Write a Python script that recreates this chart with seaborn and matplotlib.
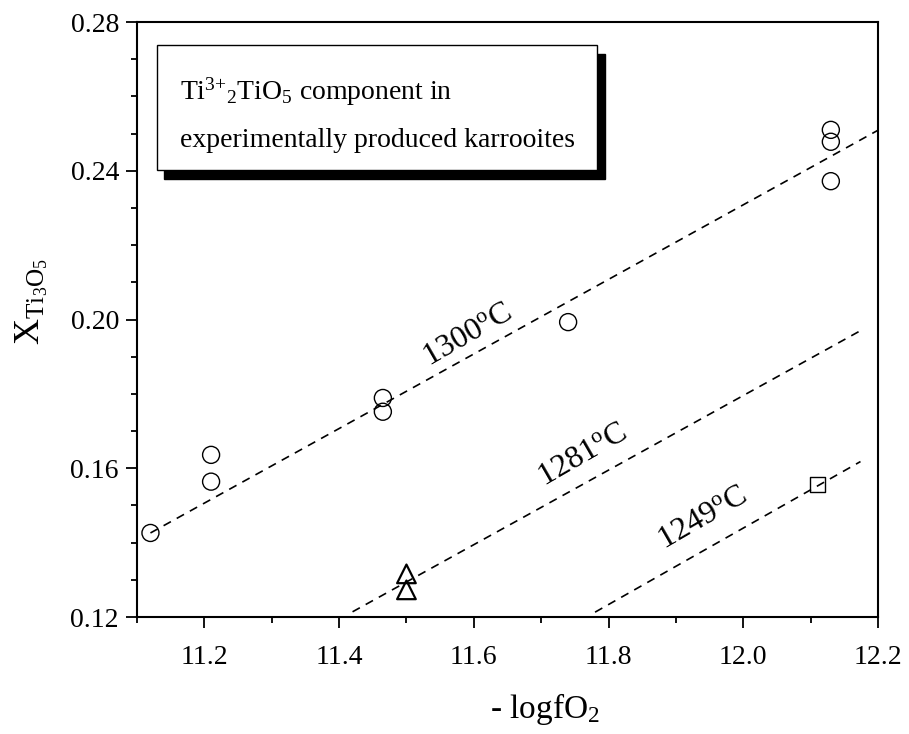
import numpy as np
import pandas as pd
import seaborn as sns
import matplotlib.pyplot as plt
from matplotlib.patches import Rectangle
from matplotlib.ticker import MultipleLocator, FormatStrFormatter

# data
x_1300 = [11.12, 11.21, 11.21, 11.465, 11.465, 11.74, 12.13, 12.13, 12.13]
y_1300 = [0.1426, 0.1636, 0.1564, 0.1789, 0.1752, 0.1993, 0.2510, 0.2478, 0.2372]
x_1281 = [11.50, 11.50]
y_1281 = [0.1316, 0.1273]
x_1249 = [12.11]
y_1249 = [0.1556]

# dashed trend lines (start, end)
line_1300_x = [11.12, 12.20]
line_1300_y = [0.1426, 0.2509]
line_1281_x = [11.42, 12.176]
line_1281_y = [0.1214, 0.1972]
line_1249_x = [11.78, 12.174]
line_1249_y = [0.1213, 0.1618]

labels = ['1300', '1281', '1249']
label_x = [11.59, 11.762, 11.94]
label_y = [0.1958, 0.1636, 0.1466]

sns.set_theme(style='ticks')
plt.rcParams['font.family'] = ['Liberation Serif', 'DejaVu Serif']
plt.rcParams['mathtext.fontset'] = 'custom'
plt.rcParams['mathtext.rm'] = 'Liberation Serif'
plt.rcParams['mathtext.it'] = 'Liberation Serif:italic'
plt.rcParams['mathtext.bf'] = 'Liberation Serif:bold'
plt.rcParams['text.color'] = 'black'
plt.rcParams['axes.labelcolor'] = 'black'

fig = plt.figure(figsize=(9.09, 7.34), dpi=100)
ax = fig.add_axes([0.1507, 0.1594, 0.8152, 0.8106])

df_c = pd.DataFrame({'x': x_1300, 'y': y_1300})
df_t = pd.DataFrame({'x': x_1281, 'y': y_1281})
df_s = pd.DataFrame({'x': x_1249, 'y': y_1249})

sns.scatterplot(data=df_c, x='x', y='y', marker='o', s=150, facecolor='none',
                edgecolor='black', linewidth=1.0, ax=ax, zorder=3)
sns.scatterplot(data=df_t, x='x', y='y', marker='^', s=180, facecolor='none',
                edgecolor='black', linewidth=1.6, ax=ax, zorder=3)
sns.scatterplot(data=df_s, x='x', y='y', marker='s', s=115, facecolor='none',
                edgecolor='black', linewidth=1.0, ax=ax, zorder=3)

for lx, ly in [(line_1300_x, line_1300_y), (line_1281_x, line_1281_y),
               (line_1249_x, line_1249_y)]:
    ax.plot(lx, ly, color='black', lw=1.2, ls=(0, (5, 4)), zorder=2)

for t, tx, ty in zip(labels, label_x, label_y):
    ax.text(tx, ty, t + r'$^{\mathregular{o}}$C', fontsize=23, rotation=30,
            ha='center', va='center', rotation_mode='anchor', color='black')

ax.set_xlim(11.1, 12.2)
ax.set_ylim(0.12, 0.28)
ax.xaxis.set_major_locator(MultipleLocator(0.2))
ax.xaxis.set_minor_locator(MultipleLocator(0.1))
ax.yaxis.set_major_locator(MultipleLocator(0.04))
ax.yaxis.set_minor_locator(MultipleLocator(0.01))
ax.xaxis.set_major_formatter(FormatStrFormatter('%.1f'))
ax.yaxis.set_major_formatter(FormatStrFormatter('%.2f'))
ax.tick_params(which='major', length=8, width=1.3, labelsize=20, color='black',
               labelcolor='black')
ax.tick_params(which='minor', length=4, width=1.3, color='black')
ax.tick_params(axis='x', which='major', pad=12)
ax.tick_params(axis='y', which='major', pad=5)
for sp in ax.spines.values():
    sp.set_visible(True)
    sp.set_linewidth(1.5)
    sp.set_color('black')

ax.set_xlabel(r'- logfO$_{\mathregular{2}}$', fontsize=24, color='black')
ax.xaxis.set_label_coords(0.55, -0.125)
ax.set_ylabel(r'$\mathregular{X_{Ti_{3}O_{5}}}$', fontsize=26, color='black')
ax.yaxis.set_label_coords(-0.118, 0.53)

# annotation box with shadow
bx0, by0, bw, bh = 0.027, 0.751, 0.594, 0.210
ax.add_patch(Rectangle((bx0 + 0.010, by0 - 0.015), bw, bh, transform=ax.transAxes,
                       facecolor='black', edgecolor='black', zorder=4))
ax.add_patch(Rectangle((bx0, by0), bw, bh, transform=ax.transAxes,
                       facecolor='white', edgecolor='black', lw=1.0, zorder=5))
ax.text(0.058, 0.869, r'Ti$^{\mathregular{3{+}}}$$_{\mathregular{2}}$TiO$_{\mathregular{5}}$ component in',
        transform=ax.transAxes, fontsize=20, va='baseline', ha='left', zorder=6,
        color='black')
ax.text(0.058, 0.790, 'experimentally produced karrooites',
        transform=ax.transAxes, fontsize=20, va='baseline', ha='left', zorder=6,
        color='black')

fig.savefig('out.png', dpi=100)
